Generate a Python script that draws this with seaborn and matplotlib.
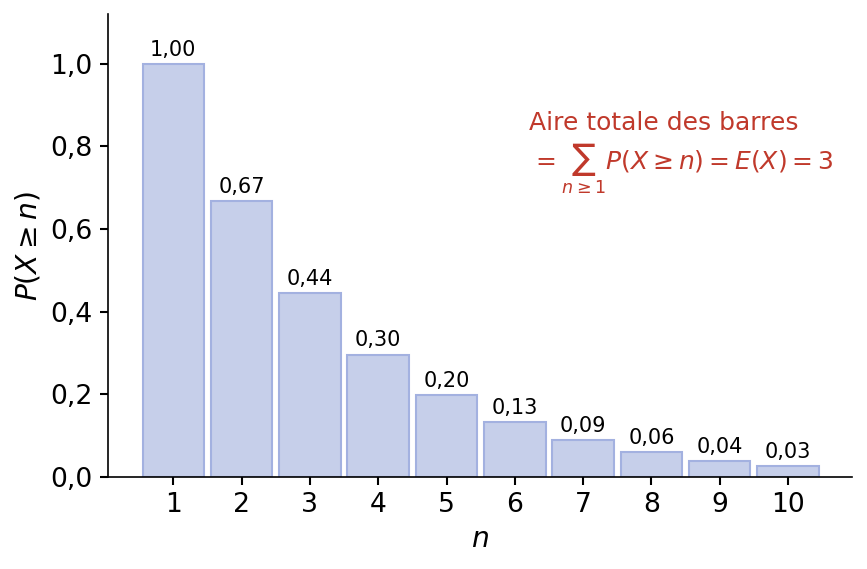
import matplotlib
matplotlib.use("Agg")
import matplotlib.pyplot as plt
import seaborn as sns
import pandas as pd

n_values = [1, 2, 3, 4, 5, 6, 7, 8, 9, 10]
p_values = [1.000, 0.667, 0.444, 0.296, 0.198, 0.132, 0.088, 0.059, 0.039, 0.026]
bar_labels = ["1,00", "0,67", "0,44", "0,30", "0,20", "0,13", "0,09", "0,06", "0,04", "0,03"]
y_ticks = [0.0, 0.2, 0.4, 0.6, 0.8, 1.0]
y_tick_labels = ["0,0", "0,2", "0,4", "0,6", "0,8", "1,0"]

sns.set_style("ticks")
plt.rcParams['font.family'] = ['DejaVu Sans']
plt.rcParams.update({
    "text.color": "black",
    "axes.labelcolor": "black",
    "xtick.color": "black",
    "ytick.color": "black",
    "axes.edgecolor": "black",
})

df = pd.DataFrame({"n": n_values, "p": p_values})

fig, ax = plt.subplots(figsize=(8.67 / 1.5, 5.69 / 1.5), dpi=150)
fig.subplots_adjust(left=0.125, right=0.983, top=0.975, bottom=0.162)

sns.barplot(data=df, x="n", y="p", ax=ax, color="#c6cfea", saturation=1,
            edgecolor="#a3b1e0", linewidth=1.0, width=0.9)

for patch, lab in zip(ax.patches, bar_labels):
    ax.annotate(lab, (patch.get_x() + patch.get_width() / 2, patch.get_height()),
                xytext=(0, 2), textcoords="offset points", ha="center", va="bottom",
                fontsize=10)

ax.set_ylim(0, 1.12)
ax.set_xlim(-0.95, 9.94)
ax.set_yticks(y_ticks)
ax.set_yticklabels(y_tick_labels)
ax.tick_params(axis="both", labelsize=12.8, length=4, width=1)
ax.set_xlabel("$n$", fontsize=13.5, labelpad=3)
ax.set_ylabel(r"$P(X \geq n)$", fontsize=13.5, labelpad=4)
sns.despine(ax=ax)

red = "#c0392b"
ax.text(0.565, 0.79, "Aire totale des barres", transform=ax.transAxes,
        color=red, fontsize=12, ha="left", va="top")
ax.text(0.568, 0.725, r"$= \sum_{n \geq 1} P(X \geq n) = E(X) = 3$", transform=ax.transAxes,
        color=red, fontsize=12, ha="left", va="top")

fig.savefig("out.png", dpi=150)
